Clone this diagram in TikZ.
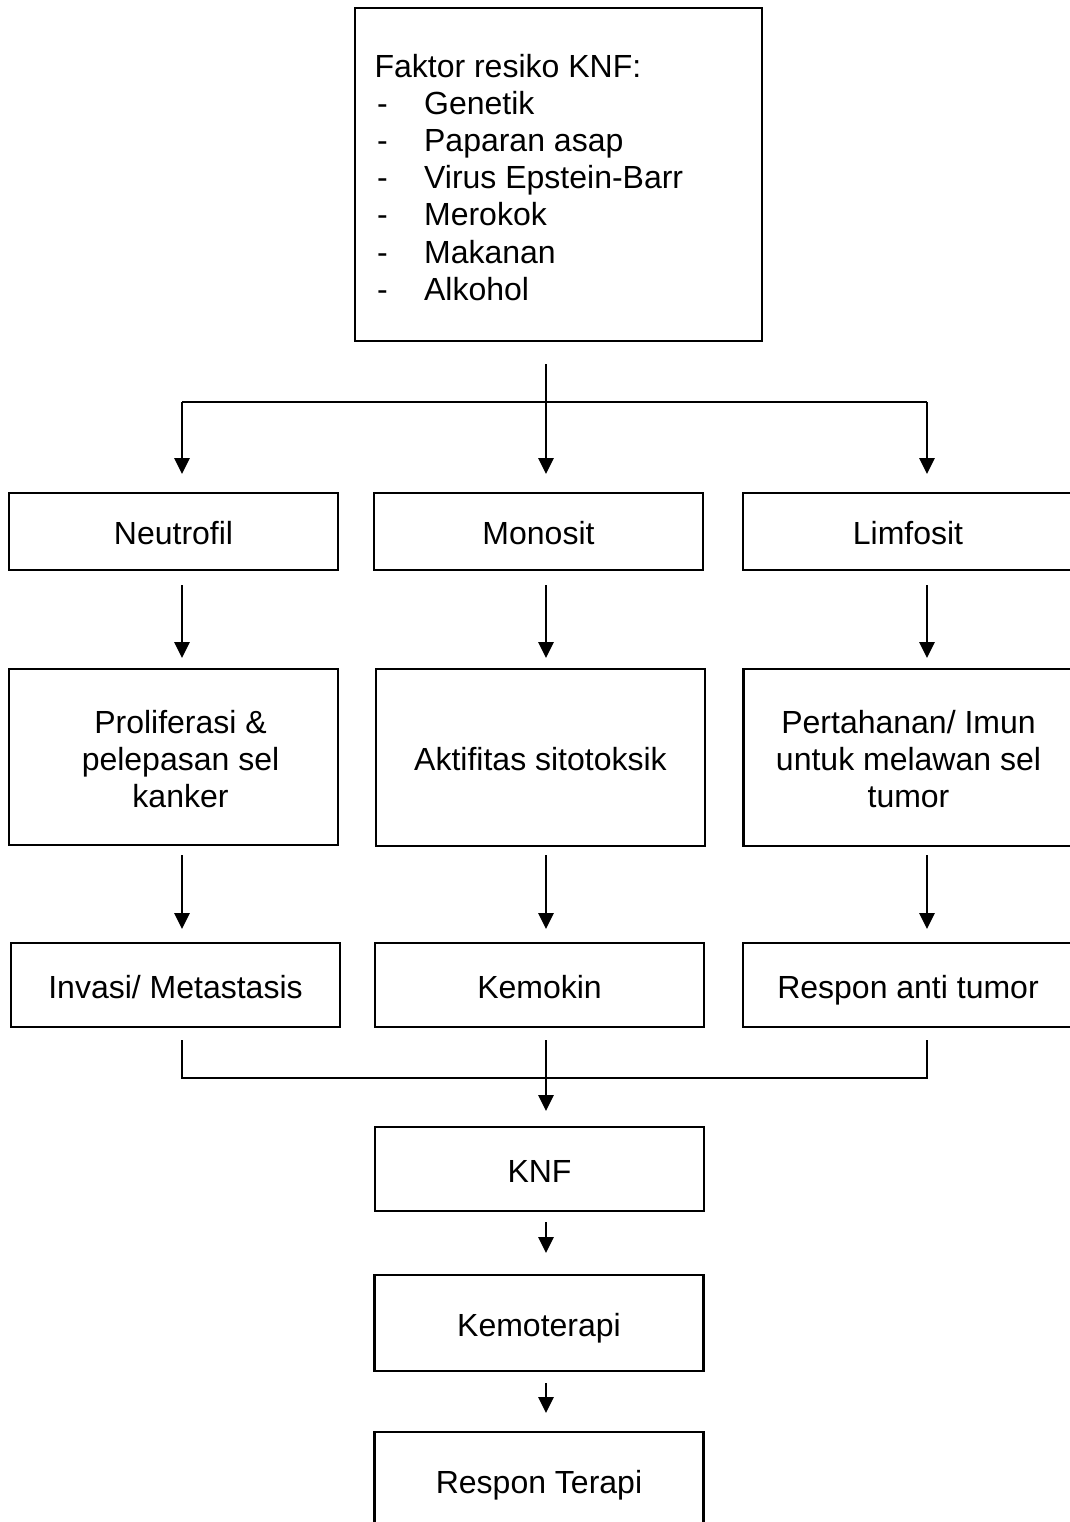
\documentclass[tikz,border=0pt]{standalone}
\usepackage{fontspec}
\setmainfont{Liberation Sans}
\usetikzlibrary{arrows.meta}
\newcommand\itemdash{\makebox[18.6pt][l]{\hspace{1pt}-}}
\begin{document}
\begin{tikzpicture}[x=0.375pt,y=-0.375pt,
  txt/.style={font=\fontsize{12}{13.9}\selectfont},
  box/.style={txt, draw, line width=1.1pt, inner sep=0pt, align=center},
  sz/.style 2 args={minimum width=#1*0.375pt, minimum height=#2*0.375pt},
  one/.style={text height=9.8pt, text depth=0pt},
  conn/.style={line width=0.6pt},
  arr/.style={conn, -{Triangle[length=6pt,width=5.8pt]}},
]
\useasboundingbox (0,0) rectangle (1070,1522);
\clip (0,0) rectangle (1070,1522);

% top box
\node[box, sz={407}{333}] (risk) at (558.5,174.5) {};
\node[txt, anchor=north west, inner sep=0pt, align=left] (risktext) at (374,54)
  {Faktor resiko KNF:\\
   \itemdash Genetik\\
   \itemdash Paparan asap\\
   \itemdash Virus Epstein-Barr\\
   \itemdash Merokok\\
   \itemdash Makanan\\
   \itemdash Alkohol};

% row 1
\node[box, one, sz={329}{77}] (neu) at (173.5,531.5) {Neutrofil};
\node[box, one, sz={329}{77}] (mono) at (538.5,531.5) {Monosit};
\node[box, one, sz={330}{77}] (limf) at (908,531.5) {Limfosit};

% row 2
\node[box, sz={329}{176}] (prol) at (173.5,757) {};
\node[txt, align=center, inner sep=0pt] (proltext) at (180.5,759)
  {Proliferasi \&\\pelepasan sel\\kanker};
\node[box, one, sz={329}{177}] (akt) at (540.5,757.5) {Aktifitas sitotoksik};
\node[box, sz={330}{177}] (pert) at (908.5,757.5) {};
\node[txt, align=center, inner sep=0pt] (perttext) at (908.5,759)
  {Pertahanan/ Imun\\untuk melawan sel\\tumor};

% row 3
\node[box, one, sz={329}{84}] (inv) at (175.5,985) {Invasi/ Metastasis};
\node[box, one, sz={329}{84}] (kemok) at (539.5,985) {Kemokin};
\node[box, one, sz={330}{84}] (resp) at (908,985) {Respon anti tumor};

% bottom chain
\node[box, one, sz={329}{84}] (knf) at (539.5,1169) {KNF};
\node[box, one, sz={329}{96}] (kemo) at (539,1323) {Kemoterapi};
\node[box, one, sz={329}{96}] (rt) at (539,1480) {Respon Terapi};

% split under top box
\coordinate (a0) at (546,364);
\coordinate (sp) at (546,402);
\coordinate (sl) at (182,402);
\coordinate (sr) at (927,402);
\coordinate (t1) at (182,474);
\coordinate (t2) at (546,474);
\coordinate (t3) at (927,474);
\draw[conn] (a0) -- (sp);
\draw[conn] (sl) -- (sr);
\draw[arr] (sl) -- (t1);
\draw[arr] (sp) -- (t2);
\draw[arr] (sr) -- (t3);

% column arrows
\foreach \n/\x in {l/182,m/546,r/927}{
  \coordinate (u\n) at (\x,585);
  \coordinate (v\n) at (\x,658);
  \coordinate (w\n) at (\x,855);
  \coordinate (z\n) at (\x,929);
  \draw[arr] (u\n) -- (v\n);
  \draw[arr] (w\n) -- (z\n);
}

% merge
\coordinate (ml) at (182,1040);
\coordinate (mm) at (546,1040);
\coordinate (mr) at (927,1040);
\coordinate (hl) at (182,1078);
\coordinate (hr) at (927,1078);
\coordinate (mt) at (546,1111);
\draw[conn] (ml) -- (hl) -- (hr) -- (mr);
\draw[arr] (mm) -- (mt);

% chain
\coordinate (k1) at (546,1222);
\coordinate (k2) at (546,1253);
\coordinate (k3) at (546,1383);
\coordinate (k4) at (546,1413);
\draw[arr] (k1) -- (k2);
\draw[arr] (k3) -- (k4);
\end{tikzpicture}
\end{document}
